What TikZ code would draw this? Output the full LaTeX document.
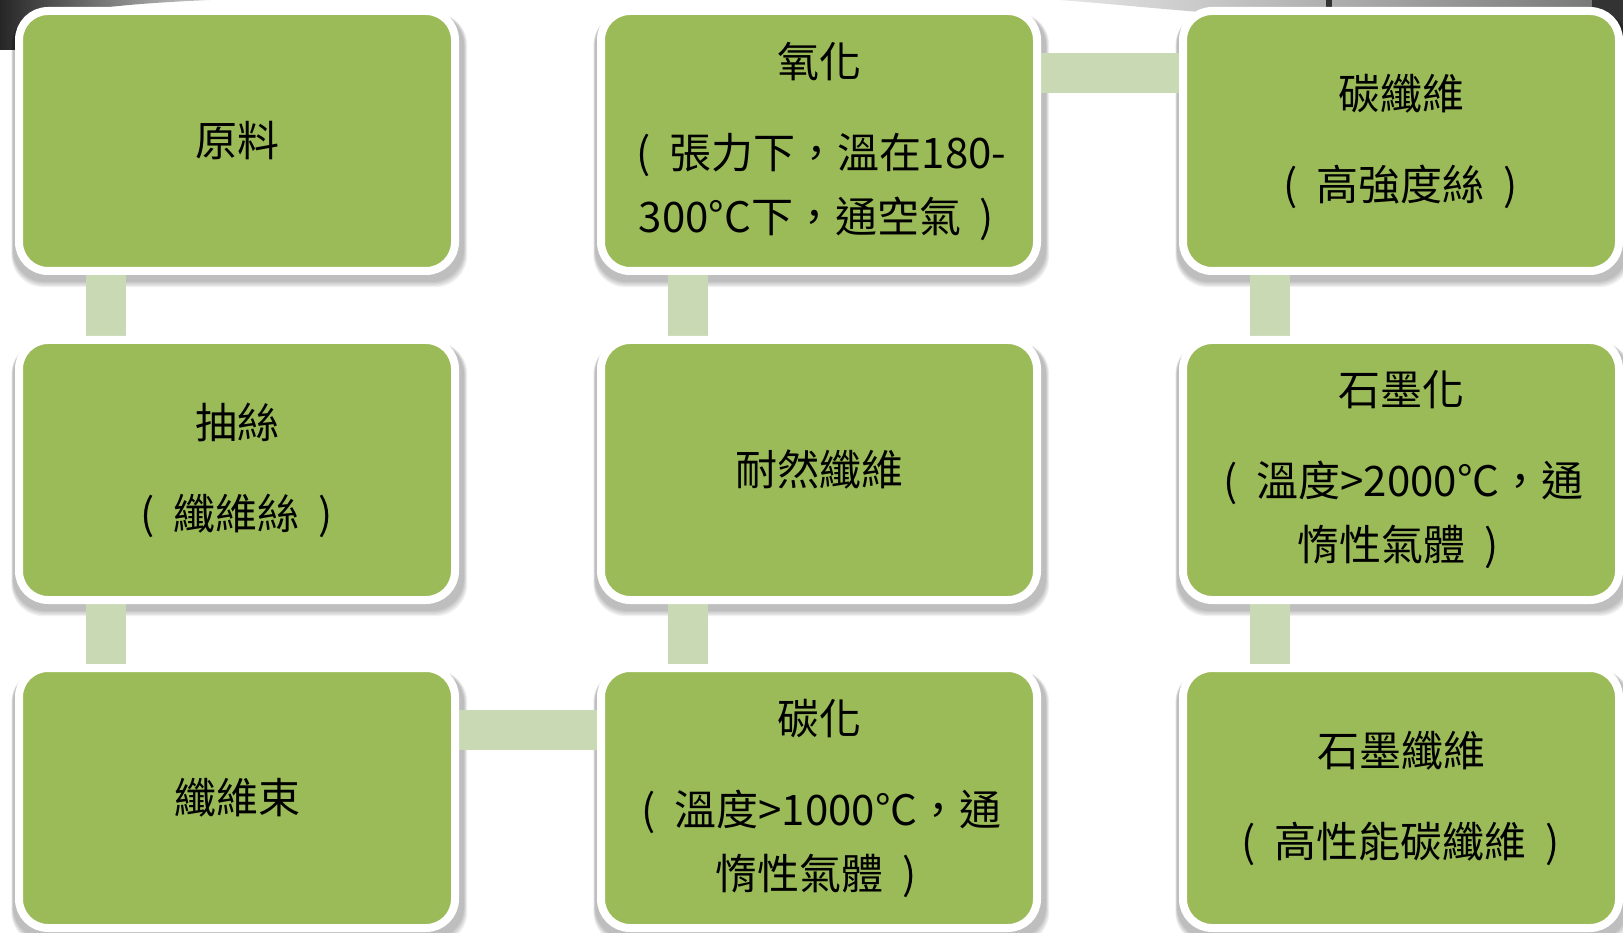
\documentclass[tikz,border=0pt]{standalone}
\usepackage{fontspec}
\setmainfont{Noto Sans CJK TC}
\usetikzlibrary{backgrounds}
\definecolor{boxgreen}{RGB}{155,187,89}
\definecolor{conngreen}{RGB}{200,217,180}
\newcommand{\lp}{\kern0.12em(\kern0.45em}
\newcommand{\rp}{\kern0.45em)\kern0.12em}
\begin{document}
\begin{tikzpicture}[x=1pt,y=-1pt,
  stepbox/.style={rounded corners=29pt, fill=boxgreen, draw=white, line width=8pt,
    minimum width=436pt, minimum height=260pt, inner sep=0pt, align=center,
    font=\fontsize{42}{64}\selectfont},
  conn/.style={draw=conngreen, line width=40pt},
  shad/.style={fill=black, opacity=0.055, rounded corners=32pt}]
\useasboundingbox (0,0) rectangle (1623,933);

\node[stepbox] (a) at (237,141) {原料};
\node[stepbox] (b) at (237,470) {抽絲\\[27pt]\lp 纖維絲\rp};
\node[stepbox] (c) at (237,798) {纖維束};
\node[stepbox] (d) at (819,798) {碳化\\[27pt]\lp 溫度>1000°C，通\\惰性氣體\rp};
\node[stepbox] (e) at (819,470) {耐然纖維};
\node[stepbox] (f) at (819,141) {氧化\\[27pt]\lp 張力下，溫在180-\\300°C下，通空氣\rp};
\node[stepbox] (g) at (1401,141) {碳纖維\\[27pt]\lp 高強度絲\rp};
\node[stepbox] (h) at (1401,470) {石墨化\\[27pt]\lp 溫度>2000°C，通\\惰性氣體\rp};
\node[stepbox] (i) at (1401,798) {石墨纖維\\[27pt]\lp 高性能碳纖維\rp};

\begin{scope}[on background layer]
  \fill[white] (0,0) rectangle (1623,933);
  % background photo remnants at the top edge
  \shade[left color=black!85, right color=black!20]
    (0,0) -- (210,0) .. controls (120,4) and (50,10) .. (30,30) -- (22,50) -- (0,50) -- cycle;
  \shade[left color=black!10, right color=black!55]
    (1060,0) -- (1623,0) -- (1623,14) -- (1200,12) .. controls (1150,8) and (1100,3) .. (1060,0) -- cycle;
  \fill[black!80] (1326,0) rectangle (1332,12);
  \fill[black!80] (1592,0) rectangle (1623,40);
  % soft shadows
  \foreach \n in {a,b,c,d,e,f,g,h,i}{
    \foreach \k in {0,1,2,3,4}{
      \fill[shad] ([shift={(-2pt-0.4*\k pt,-6pt)}]\n.north west)
        rectangle ([shift={(5pt+0.8*\k pt,-7pt-1.3*\k pt)}]\n.south east);
    }
  }
  % connectors
  \draw[conn] ([xshift=-131pt]a.center) -- ([xshift=-131pt]b.center);
  \draw[conn] ([xshift=-131pt]b.center) -- ([xshift=-131pt]c.center);
  \draw[conn] ([yshift=68pt]c.center) -- ([yshift=68pt]d.center);
  \draw[conn] ([xshift=-131pt]d.center) -- ([xshift=-131pt]e.center);
  \draw[conn] ([xshift=-131pt]e.center) -- ([xshift=-131pt]f.center);
  \draw[conn] ([yshift=68pt]f.center) -- ([yshift=68pt]g.center);
  \draw[conn] ([xshift=-131pt]g.center) -- ([xshift=-131pt]h.center);
  \draw[conn] ([xshift=-131pt]h.center) -- ([xshift=-131pt]i.center);
\end{scope}
\end{tikzpicture}
\end{document}
